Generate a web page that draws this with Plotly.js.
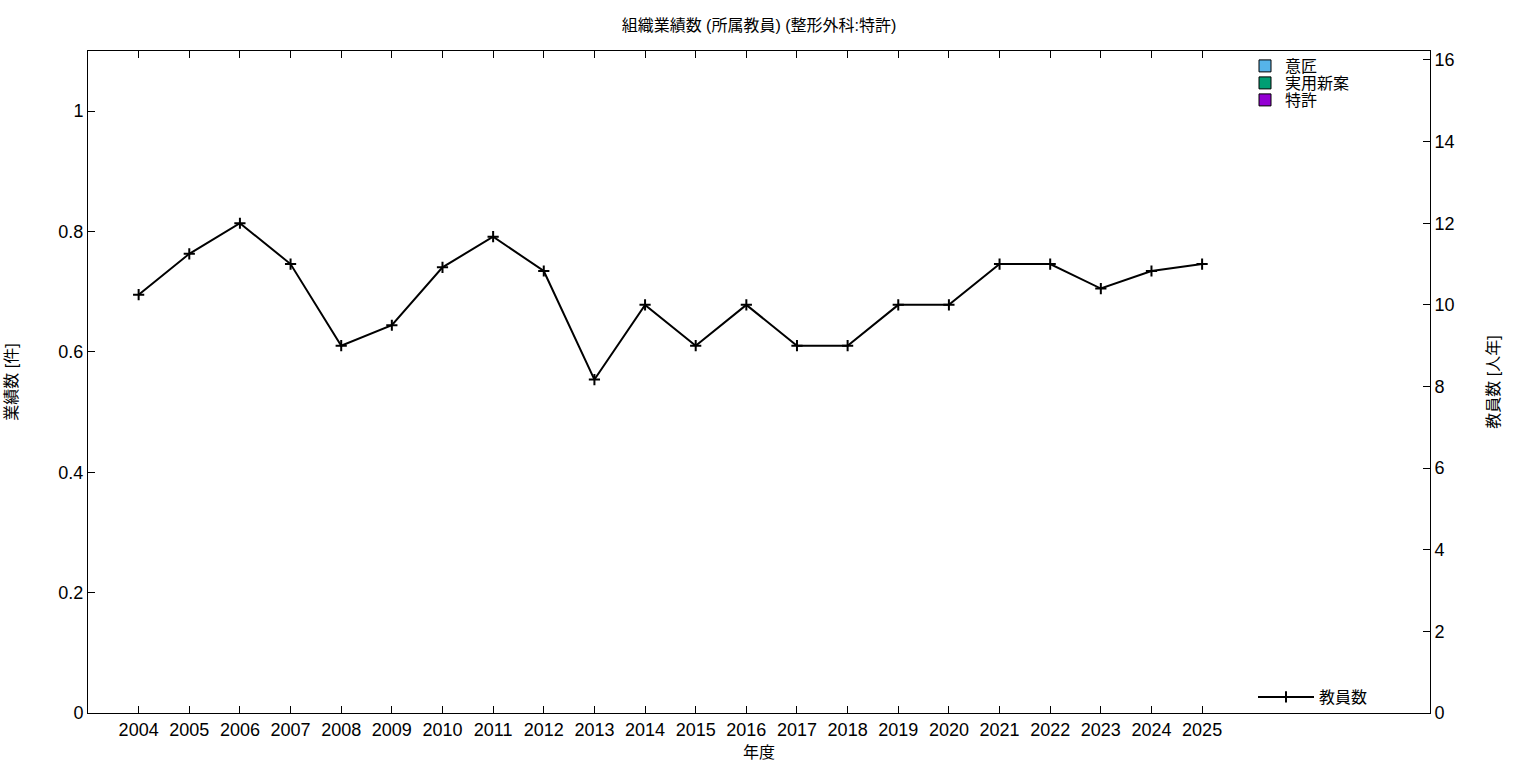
<!DOCTYPE html>
<html>
<head>
<meta charset="utf-8">
<script src="https://cdn.plot.ly/plotly-3.0.1.min.js"></script>
<style>html,body{margin:0;padding:0;background:#fff;}#chart{width:1536px;height:768px;}</style>
</head>
<body>
<div id="chart"></div>
<script>
const years = [2004,2005,2006,2007,2008,2009,2010,2011,2012,2013,2014,2015,2016,2017,2018,2019,2020,2021,2022,2023,2024,2025];
const design = [0,0,0,0,0,0,0,0,0,0,0,0,0,0,0,0,0,0,0,0,0,0];
const utility = [0,0,0,0,0,0,0,0,0,0,0,0,0,0,0,0,0,0,0,0,0,0];
const patent = [0,0,0,0,0,0,0,0,0,0,0,0,0,0,0,0,0,0,0,0,0,0];
const staff = [10.25,11.25,12,11,9,9.5,10.92,11.67,10.83,8.17,10,9,10,9,9,10,10,11,11,10.4,10.83,11];
const tickLabels = years.map(String);

const FONT = '"Liberation Sans", Arial, "Noto Sans CJK JP", sans-serif';

const traces = [
  {type:'bar', name:'意匠', x:years, y:design, marker:{color:'#56b4e9', line:{color:'#000', width:1}}, legend:'legend', yaxis:'y'},
  {type:'bar', name:'実用新案', x:years, y:utility, marker:{color:'#009e73', line:{color:'#000', width:1}}, legend:'legend3', yaxis:'y'},
  {type:'bar', name:'特許', x:years, y:patent, marker:{color:'#9400d3', line:{color:'#000', width:1}}, legend:'legend4', yaxis:'y'},
  {type:'scatter', mode:'lines+markers', name:'教員数', x:years, y:staff, yaxis:'y2', legend:'legend2',
   line:{color:'#000', width:2}, marker:{symbol:'cross-thin-open', size:8, color:'#000', line:{color:'#000', width:2}}}
];

const legFont = {size:16, family:FONT};
function leg(yTopPx) {
  return {x:(1245-88)/1342, xanchor:'left', y:(713-yTopPx)/662, yanchor:'middle', bgcolor:'rgba(0,0,0,0)', font:legFont, itemwidth:30};
}

const layout = {
  width:1536, height:768,
  paper_bgcolor:'#fff', plot_bgcolor:'#fff',
  margin:{l:88, r:106, t:51, b:55},
  font:{family:FONT, size:16, color:'#000'},
  barmode:'stack',
  title:{text:'組織業績数 (所属教員) (整形外科:特許)', font:{size:16, family:FONT}, xref:'paper', x:0.5, xanchor:'center', y:0.967, yanchor:'middle'},
  xaxis:{range:[2003,2029.5], tickvals:years, ticktext:tickLabels, ticks:'inside', ticklen:7, tickwidth:1, tickcolor:'#000',
         showline:true, linecolor:'#000', linewidth:1, mirror:'ticks', showgrid:false, zeroline:false,
         tickfont:{size:18, family:FONT},
         title:{text:'年度', font:{size:16, family:FONT}, standoff:8}},
  yaxis:{range:[0,1.1], tickvals:[0,0.2,0.4,0.6,0.8,1], ticktext:['0','0.2','0.4','0.6','0.8','1'], ticks:'inside', ticklen:7, tickcolor:'#000',
         showline:true, linecolor:'#000', linewidth:1, showgrid:false, zeroline:false,
         tickfont:{size:18, family:FONT},
         title:{text:'業績数 [件]', font:{size:16, family:FONT}, standoff:36}},
  yaxis2:{range:[0,16.22], overlaying:'y', side:'right', dtick:2, tick0:0, ticks:'inside', ticklen:7, tickcolor:'#000',
          showline:true, linecolor:'#000', linewidth:1, showgrid:false, zeroline:false,
          tickfont:{size:18, family:FONT},
          title:{text:'教員数 [人年]', font:{size:16, family:FONT}, standoff:34}},
  legend: leg(66),
  legend3: leg(83),
  legend4: leg(100),
  legend2:{x:(1253-88)/1342, xanchor:'left', y:(713-697)/662, yanchor:'middle', bgcolor:'rgba(0,0,0,0)', font:{size:16, family:FONT}, itemwidth:56},
  showlegend:true
};

Plotly.newPlot('chart', traces, layout, {displayModeBar:false, staticPlot:true});
</script>
</body>
</html>
